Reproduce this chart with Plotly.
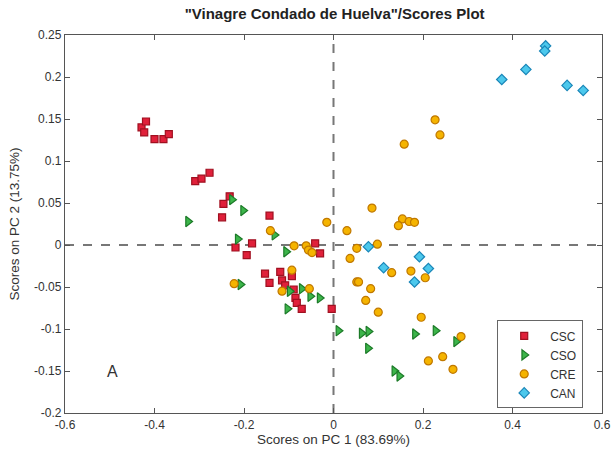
import plotly.graph_objects as go

# PCA scores (PC1, PC2) per vinegar category
csc_pc1 = [-0.429, -0.419, -0.423, -0.400, -0.380, -0.368, -0.309, -0.295, -0.277,
           -0.232, -0.246, -0.249, -0.143, -0.219, -0.182, -0.194, -0.041, -0.030,
           -0.153, -0.119, -0.093, -0.143, -0.115, -0.108, -0.089, -0.085, -0.082,
           -0.071, -0.004]
csc_pc2 = [0.140, 0.147, 0.134, 0.126, 0.126, 0.132, 0.076, 0.079, 0.086,
           0.058, 0.049, 0.033, 0.035, -0.003, 0.002, -0.012, 0.002, -0.010,
           -0.034, -0.032, -0.037, -0.045, -0.042, -0.048, -0.053, -0.063, -0.069,
           -0.076, -0.076]

cso_pc1 = [-0.325, -0.227, -0.202, -0.214, -0.132, -0.106, -0.208, -0.098, -0.071,
           -0.052, -0.031, -0.103, 0.011, 0.063, 0.078, 0.077, 0.182, 0.228,
           0.274, 0.136, 0.147]
cso_pc2 = [0.028, 0.054, 0.041, 0.007, 0.012, -0.008, -0.047, -0.055, -0.052,
           -0.061, -0.063, -0.076, -0.102, -0.105, -0.103, -0.123, -0.106, -0.102,
           -0.115, -0.150, -0.156]

cre_pc1 = [-0.141, -0.088, -0.061, -0.056, -0.048, -0.093, -0.222, -0.115, -0.054,
           -0.015, 0.030, 0.037, 0.052, 0.227, 0.238, 0.158, 0.086, 0.154, 0.145,
           0.169, 0.181, 0.052, 0.098, 0.130, 0.173, 0.205, 0.056, 0.083, 0.072,
           0.100, 0.196, 0.285, 0.212, 0.244, 0.267]
cre_pc2 = [0.017, -0.001, -0.001, -0.006, -0.009, -0.030, -0.046, -0.055, -0.052,
           0.027, 0.017, -0.016, -0.044, 0.149, 0.131, 0.120, 0.044, 0.031, 0.023,
           0.028, 0.027, -0.004, 0.001, -0.033, -0.031, -0.039, -0.044, -0.052, -0.066,
           -0.080, -0.086, -0.109, -0.138, -0.133, -0.148]

can_pc1 = [0.376, 0.430, 0.474, 0.472, 0.522, 0.558, 0.078, 0.112, 0.192, 0.212, 0.181]
can_pc2 = [0.197, 0.209, 0.237, 0.231, 0.190, 0.184, -0.002, -0.027, -0.014, -0.028, -0.044]

x_ticks = [-0.6, -0.4, -0.2, 0, 0.2, 0.4, 0.6]
x_tick_text = ["-0.6", "-0.4", "-0.2", "0", "0.2", "0.4", "0.6"]
y_ticks = [-0.2, -0.15, -0.1, -0.05, 0, 0.05, 0.1, 0.15, 0.2, 0.25]
y_tick_text = ["-0.2", "-0.15", "-0.1", "-0.05", "0", "0.05", "0.1", "0.15", "0.2", "0.25"]

series = [
    ("CSC", csc_pc1, csc_pc2, "square", "#e0203a", "#a01020", 7),
    ("CSO", cso_pc1, cso_pc2, "triangle-right", "#3cb54a", "#1c7a28", 9),
    ("CRE", cre_pc1, cre_pc2, "circle", "#f5b400", "#c07800", 8),
    ("CAN", can_pc1, can_pc2, "diamond", "#4cc8ec", "#1a86b8", 8),
]

fig = go.Figure()
for name, xs, ys, sym, fill, edge, size in series:
    fig.add_trace(go.Scatter(
        x=xs, y=ys, mode="markers", name=name,
        marker=dict(symbol=sym, size=size, color=fill,
                    line=dict(color=edge, width=1.2)),
    ))

font_family = "Liberation Sans, Arial, sans-serif"
axis_style = dict(
    showgrid=False, zeroline=False, showline=True, linecolor="#555555",
    linewidth=1.3, mirror="ticks", ticks="inside", ticklen=5,
    tickcolor="#555555", tickfont=dict(size=12, color="#333333"),
    automargin=False,
)

fig.update_layout(
    width=614, height=463,
    margin=dict(l=65, r=12, t=35, b=50),
    paper_bgcolor="white", plot_bgcolor="white",
    font=dict(family=font_family, color="#333333"),
    title=dict(text='<b>"Vinagre Condado de Huelva"/Scores Plot</b>',
               x=0.545, xanchor="center", y=0.982, yanchor="top",
               font=dict(size=15, color="#222222")),
    xaxis=dict(range=[-0.6, 0.6], tickvals=x_ticks, ticktext=x_tick_text,
               title=dict(text="Scores on PC 1 (83.69%)", font=dict(size=13.5), standoff=4),
               **axis_style),
    yaxis=dict(range=[-0.2, 0.25], tickvals=y_ticks, ticktext=y_tick_text,
               title=dict(text="Scores on PC 2 (13.75%)", font=dict(size=13.5), standoff=11),
               **axis_style),
    legend=dict(x=0.965, xanchor="right", y=0.245, yanchor="top",
                bordercolor="#666666", borderwidth=1, bgcolor="white",
                font=dict(size=12, color="#333333"), itemwidth=42),
    showlegend=True,
)

# dashed reference lines through the origin
fig.add_shape(type="line", xref="x", yref="paper", x0=0, x1=0, y0=0, y1=1,
              line=dict(color="#777777", width=2, dash="dash"), layer="below")
fig.add_shape(type="line", xref="paper", yref="y", x0=0, x1=1, y0=0, y1=0,
              line=dict(color="#777777", width=2, dash="dash"), layer="below")

fig.add_annotation(x=-0.493, y=-0.150, xref="x", yref="y", text="A",
                   showarrow=False, font=dict(size=16, color="#333333"))

fig.write_html("out.html")
